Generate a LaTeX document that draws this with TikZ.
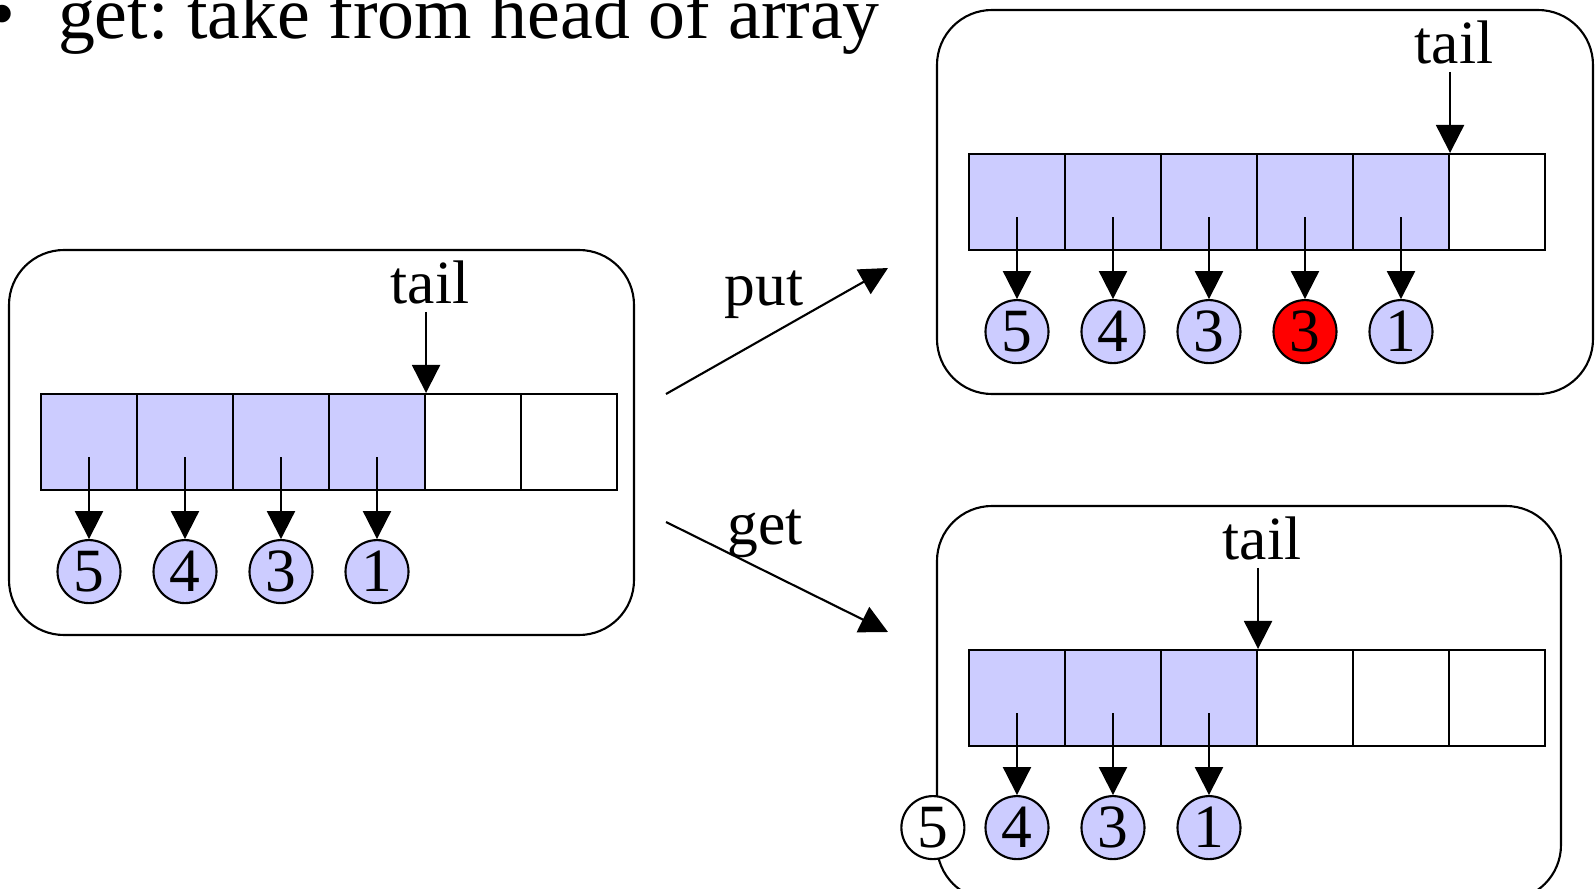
\documentclass[tikz,border=0pt]{standalone}
\usepackage{fontspec}
\setmainfont{Liberation Serif}
\usetikzlibrary{positioning,arrows.meta}
\definecolor{clav}{RGB}{204,204,255}
\definecolor{cred}{RGB}{255,0,0}
\frenchspacing

\begin{document}
\begin{tikzpicture}[>={Triangle[length=0.28cm,width=0.28cm]},
    line width=0.6pt,
    panel/.style={draw, rounded corners=0.55cm},
    slot/.style={draw, minimum size=0.96cm, inner sep=0pt},
    used/.style={slot, fill=clav},
    ball/.style={draw, circle, fill=clav, minimum size=0.63cm, inner sep=0pt,
                 font=\fontsize{17.5}{20}\selectfont},
    lbl/.style={inner sep=2pt, font=\fontsize{17.5}{20}\selectfont},
  ]
  \clip (0,0) rectangle (15.95,8.88);
  % bullet line at the top
  \node[anchor=base, inner sep=0pt, font=\fontsize{21}{25}\selectfont] (bullet) at (0.02,8.50) {\textbullet};
  \node[anchor=base west, inner sep=0pt, font=\fontsize{21}{25}\selectfont] (item) at (0.57,8.50) {get: take from head of array};

  % queue before
  \node[panel, minimum width=6.25cm, minimum height=3.85cm] (before) at (3.215,4.455) {};
  \foreach \i/\s in {1/used,2/used,3/used,4/used,5/slot,6/slot}
    \node[\s] (a\i) at (-0.07+0.96*\i,4.46) {};
  \foreach \i/\v in {1/5,2/4,3/3,4/1} {
    \node[ball, below=0.48cm of a\i] (p\i) {\v};
    \draw[->] ([yshift=-0.15cm]a\i.center) -- (p\i);
  }
  \node[lbl, above=0.81cm of a4.north east, xshift=0.04cm] (tail1) {tail};
  \draw[->] (tail1.south -| a4.north east) -- (a4.north east);

  % queue after put
  \node[panel, minimum width=6.56cm, minimum height=3.84cm] (afterput) at (12.65,6.86) {};
  \foreach \i/\s in {1/used,2/used,3/used,4/used,5/used,6/slot}
    \node[\s] (b\i) at (9.21+0.96*\i,6.86) {};
  \foreach \i/\v/\c in {1/5/clav,2/4/clav,3/3/clav,4/3/cred,5/1/clav} {
    \node[ball, fill=\c, below=0.48cm of b\i] (r\i) {\v};
    \draw[->] ([yshift=-0.15cm]b\i.center) -- (r\i);
  }
  \node[lbl, above=0.81cm of b5.north east, xshift=0.04cm] (tail2) {tail};
  \draw[->] (tail2.south -| b5.north east) -- (b5.north east);

  % queue after get
  \node[panel, minimum width=6.24cm, minimum height=3.94cm] (afterget) at (12.49,1.85) {};
  \foreach \i/\s in {1/used,2/used,3/used,4/slot,5/slot,6/slot}
    \node[\s] (c\i) at (9.21+0.96*\i,1.90) {};
  \foreach \i/\v in {1/4,2/3,3/1} {
    \node[ball, below=0.48cm of c\i] (s\i) {\v};
    \draw[->] ([yshift=-0.15cm]c\i.center) -- (s\i);
  }
  \node[ball, fill=white, left=0.19cm of s1] (s0) {5};
  \node[lbl, above=0.81cm of c3.north east, xshift=0.04cm] (tail3) {tail};
  \draw[->] (tail3.south -| c3.north east) -- (c3.north east);

  % put / get
  \coordinate (putfrom) at (6.66,4.94);
  \coordinate (putto) at (8.88,6.20);
  \coordinate (getfrom) at (6.66,3.66);
  \coordinate (getto) at (8.88,2.56);
  \draw[->] (putfrom) -- (putto);
  \draw[->] (getfrom) -- (getto);
  \node[lbl, anchor=base] (put) at (7.64,5.83) {put};
  \node[lbl, anchor=base] (get) at (7.65,3.44) {get};
\end{tikzpicture}
\end{document}
